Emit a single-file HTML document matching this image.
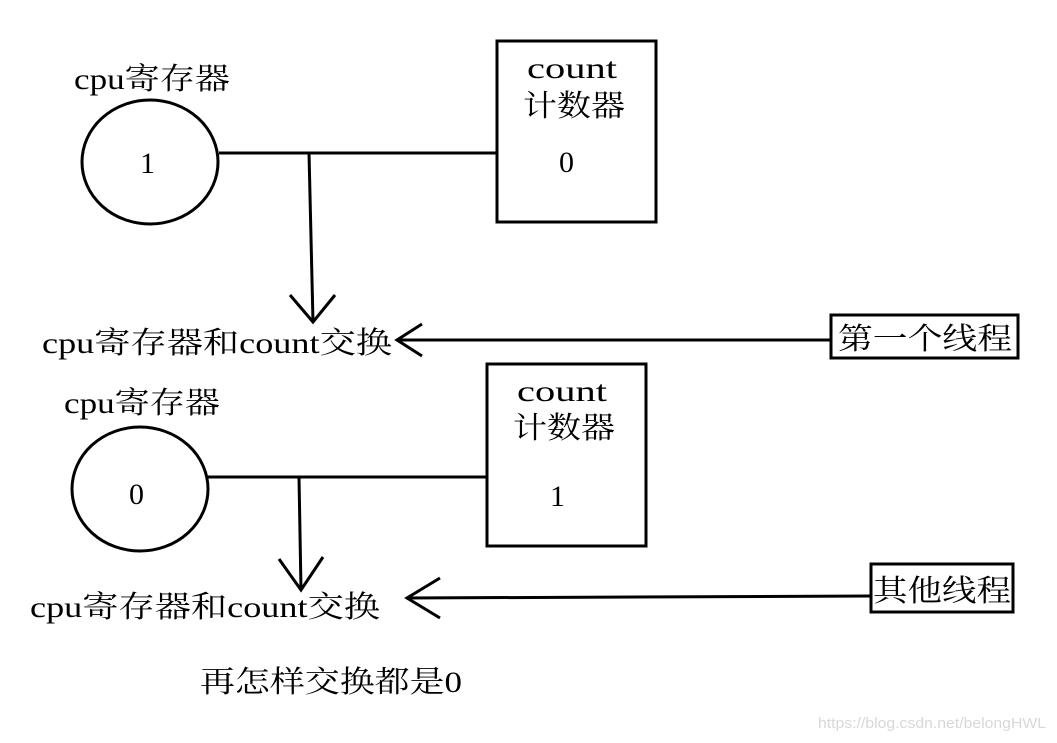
<!DOCTYPE html>
<html><head><meta charset="utf-8"><style>
html,body{margin:0;padding:0;background:#fff;}
svg{display:block;}
text{font-family:"Liberation Serif","Noto Serif CJK SC",serif;font-size:30px;fill:#000;}
</style></head><body>
<svg width="1057" height="743" viewBox="0 0 1057 743" xmlns="http://www.w3.org/2000/svg">
<g fill="none" stroke="#000" stroke-width="3">
<!-- top -->
<ellipse cx="150" cy="162" rx="68" ry="62"/>
<rect x="497" y="41" width="159" height="181"/>
<line x1="219" y1="153" x2="497" y2="153"/>
<line x1="309" y1="153" x2="313" y2="322"/>
<polyline points="290,295 313,322 335,295"/>
<line x1="400" y1="340" x2="830" y2="340"/>
<polyline points="422,324 397,340 422,356"/>
<rect x="831" y="315" width="187" height="43"/>
<!-- bottom -->
<ellipse cx="140" cy="489" rx="68" ry="62"/>
<rect x="487" y="364" width="159" height="182"/>
<line x1="208" y1="477" x2="487" y2="477"/>
<line x1="299" y1="477" x2="301" y2="590"/>
<polyline points="279,559 301,590 323,557"/>
<line x1="407" y1="598" x2="871" y2="596"/>
<polyline points="440,578 407,598 440,618"/>
<rect x="871" y="564" width="142" height="48"/>
</g>
<text x="74" y="89" textLength="156" lengthAdjust="spacingAndGlyphs">cpu寄存器</text>
<text x="140" y="173">1</text>
<text x="527" y="78" textLength="90" lengthAdjust="spacingAndGlyphs">count</text>
<text x="523" y="116" textLength="102" lengthAdjust="spacingAndGlyphs">计数器</text>
<text x="559" y="172">0</text>
<text x="42" y="353" textLength="350" lengthAdjust="spacingAndGlyphs">cpu寄存器和count交换</text>
<text x="838" y="349" textLength="174" lengthAdjust="spacingAndGlyphs">第一个线程</text>

<text x="64" y="413" textLength="156" lengthAdjust="spacingAndGlyphs">cpu寄存器</text>
<text x="129" y="504">0</text>
<text x="517" y="401" textLength="90" lengthAdjust="spacingAndGlyphs">count</text>
<text x="513" y="438" textLength="102" lengthAdjust="spacingAndGlyphs">计数器</text>
<text x="550" y="506">1</text>
<text x="30" y="617" textLength="350" lengthAdjust="spacingAndGlyphs">cpu寄存器和count交换</text>
<text x="873" y="601" textLength="138" lengthAdjust="spacingAndGlyphs">其他线程</text>
<text x="200" y="692" textLength="262" lengthAdjust="spacingAndGlyphs">再怎样交换都是0</text>
<text x="818" y="728" style="font-family:'Liberation Sans',sans-serif;font-size:15px;fill:#d8d8d8" textLength="228" lengthAdjust="spacingAndGlyphs">https://blog.csdn.net/belongHWL</text>
</svg>
</body></html>
